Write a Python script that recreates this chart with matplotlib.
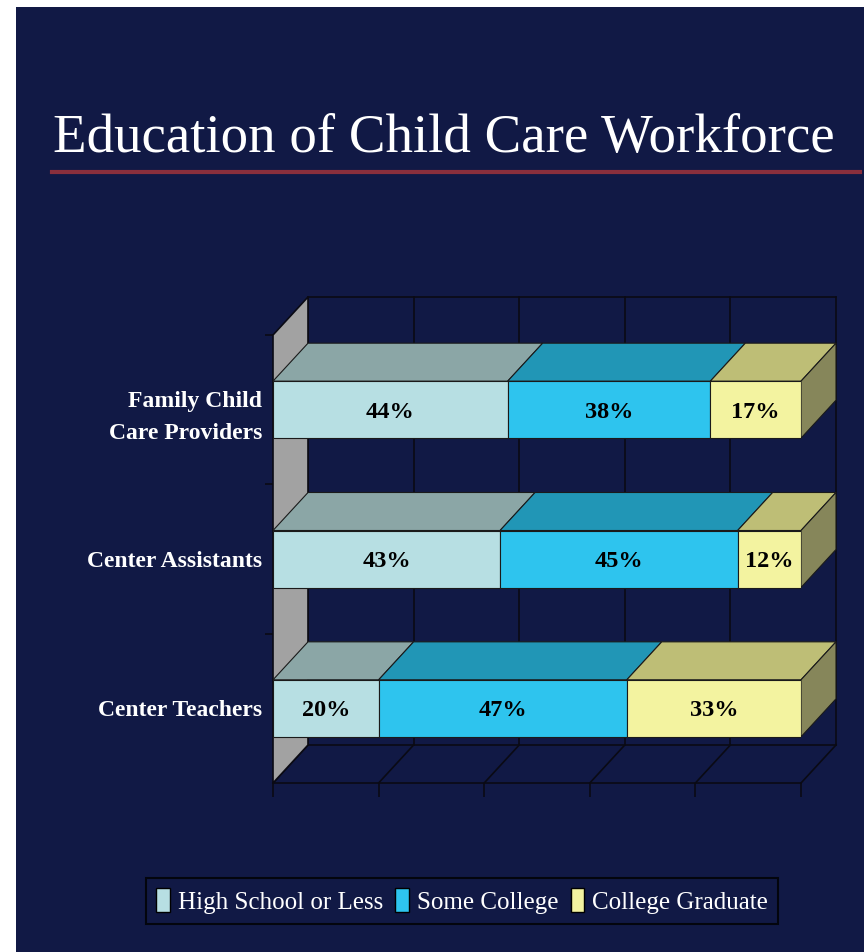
import matplotlib
matplotlib.use("Agg")
import matplotlib.pyplot as plt
import matplotlib.patches as mpatches
from matplotlib.lines import Line2D

# data
categories = ["Center Teachers", "Center Assistants", "Family Child\nCare Providers"]
series = ["High School or Less", "Some College", "College Graduate"]
high_school = [20, 43, 44]
some_college = [47, 45, 38]
college_grad = [33, 12, 17]

front_cols = ["#b7dfe3", "#2ec4ee", "#f3f3a0"]
top_cols = ["#8ba6a6", "#2196b6", "#bebe76"]
side_cols = ["#6f8585", "#1a7892", "#86865a"]

NAVY = "#111945"
W, H = 868, 952
fig = plt.figure(figsize=(W / 100, H / 100), dpi=100)
fig.patch.set_facecolor("white")
fig.patches.append(mpatches.Rectangle((16 / W, 0), (864 - 16) / W, (H - 7) / H,
                                      transform=fig.transFigure, facecolor=NAVY,
                                      edgecolor="none", zorder=-10))

fig.text(444 / W, 1 - 152 / H, "Education of Child Care Workforce", color="white",
         fontsize=39.5, family="Liberation Serif", ha="center", va="baseline")
fig.add_artist(Line2D([52 / W, 860 / W], [1 - 172 / H] * 2, transform=fig.transFigure,
                      color="#8a2f3c", lw=3))

ax = fig.add_axes([273 / W, (H - 783) / H, 528 / W, 448 / H])
ax.set_xlim(0, 100)
ax.set_ylim(-0.5, 2.5)
ax.patch.set_visible(False)
for s in ax.spines.values():
    s.set_visible(False)

DX = 35 / 528 * 100
DY = 38 / (448 / 3)
edge = "#0a0a14"

# back wall grid + floor
y0, y1 = -0.5, 2.5
for xv in range(0, 101, 20):
    ax.plot([xv + DX, xv + DX], [y0 + DY, y1 + DY], color=edge, lw=1.2, clip_on=False, zorder=1)
    ax.plot([xv, xv + DX], [y0, y0 + DY], color=edge, lw=1.2, clip_on=False, zorder=1)
ax.plot([DX, 100 + DX], [y1 + DY, y1 + DY], color=edge, lw=1.2, clip_on=False, zorder=1)
ax.plot([DX, 100 + DX], [y0 + DY, y0 + DY], color=edge, lw=1.2, clip_on=False, zorder=1)
ax.plot([0, 100], [y0, y0], color=edge, lw=1.2, clip_on=False, zorder=1)

# left side wall
ax.add_patch(mpatches.Polygon([(0, y0), (DX, y0 + DY), (DX, y1 + DY), (0, y1)],
                              closed=True, facecolor="#a2a2a2", edgecolor=edge, lw=1.2,
                              clip_on=False, zorder=2))

# bars
bh = 57 / (448 / 3)
for i in range(len(categories)):
    vals = [high_school[i], some_college[i], college_grad[i]]
    tot = sum(vals)
    left = 0
    yb, yt = i - bh / 2, i + bh / 2
    for j, v in enumerate(vals):
        w = v / tot * 100
        ax.add_patch(mpatches.Polygon([(left, yt), (left + w, yt), (left + w + DX, yt + DY),
                                       (left + DX, yt + DY)], closed=True, facecolor=top_cols[j],
                                      edgecolor="#1a1a1a", lw=0.8, clip_on=False, zorder=3))
        ax.barh(i, w, left=left, height=bh, color=front_cols[j], edgecolor="#1a1a1a",
                lw=0.8, zorder=4)
        ax.text(left + w / 2, i, f"{v}%", ha="center", va="center_baseline", fontsize=17.5,
                fontweight="bold", family="Liberation Serif", color="black", zorder=6)
        left += w
    ax.add_patch(mpatches.Polygon([(left, yb), (left, yt), (left + DX, yt + DY),
                                   (left + DX, yb + DY)], closed=True, facecolor=side_cols[2],
                                  edgecolor="#1a1a1a", lw=0.8, clip_on=False, zorder=3))

ax.set_xticks(range(0, 101, 20))
ax.set_xticklabels([])
ax.tick_params(axis="x", length=10, width=1.2, color=edge, direction="out")
ax.set_yticks(range(len(categories)))
ax.set_yticklabels(categories, color="white", fontsize=17, fontweight="bold",
                   family="Liberation Serif", linespacing=1.65)
ax.tick_params(axis="y", length=0, pad=8)
ax.set_yticks([0.5, 1.5, 2.5], minor=True)
ax.tick_params(axis="y", which="minor", length=6, width=1.2, color=edge)

handles = [mpatches.Patch(facecolor=c, edgecolor="black", label=s)
           for c, s in zip(front_cols, series)]
leg = fig.legend(handles=handles, loc="center", bbox_to_anchor=(462 / W, 1 - 901 / H),
                 ncol=3, frameon=True, fancybox=False, facecolor=NAVY, edgecolor="black",
                 handlelength=0.55, handleheight=1.1, handletextpad=0.3, columnspacing=0.5,
                 borderpad=0.4,
                 prop={"family": "Liberation Serif", "size": 18})
for t in leg.get_texts():
    t.set_color("white")
leg.get_frame().set_linewidth(1.5)

fig.savefig("out.png", dpi=100, facecolor=fig.get_facecolor())
